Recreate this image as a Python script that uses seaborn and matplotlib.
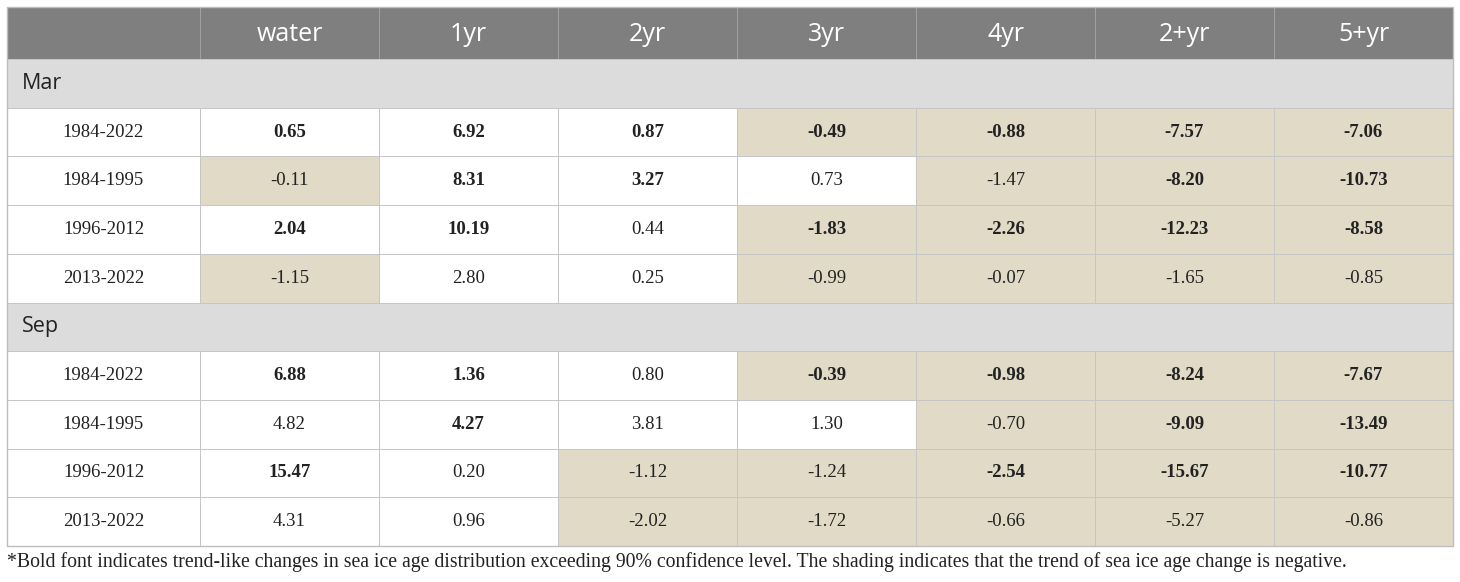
import numpy as np
import matplotlib
matplotlib.use('Agg')
import matplotlib.pyplot as plt
import seaborn as sns
from matplotlib.colors import ListedColormap
from matplotlib.patches import Rectangle

# 表格数据
columns = ['water', '1yr', '2yr', '3yr', '4yr', '2+yr', '5+yr']
periods = ['1984-2022', '1984-1995', '1996-2012', '2013-2022']
months = ['Mar', 'Sep']

mar_values = [
    [0.65, 6.92, 0.87, -0.49, -0.88, -7.57, -7.06],
    [-0.11, 8.31, 3.27, 0.73, -1.47, -8.20, -10.73],
    [2.04, 10.19, 0.44, -1.83, -2.26, -12.23, -8.58],
    [-1.15, 2.80, 0.25, -0.99, -0.07, -1.65, -0.85],
]
mar_bold = [
    [1, 1, 1, 1, 1, 1, 1],
    [0, 1, 1, 0, 0, 1, 1],
    [1, 1, 0, 1, 1, 1, 1],
    [0, 0, 0, 0, 0, 0, 0],
]
sep_values = [
    [6.88, 1.36, 0.80, -0.39, -0.98, -8.24, -7.67],
    [4.82, 4.27, 3.81, 1.30, -0.70, -9.09, -13.49],
    [15.47, 0.20, -1.12, -1.24, -2.54, -15.67, -10.77],
    [4.31, 0.96, -2.02, -1.72, -0.66, -5.27, -0.86],
]
sep_bold = [
    [1, 1, 0, 1, 1, 1, 1],
    [0, 1, 0, 0, 0, 1, 1],
    [1, 0, 0, 0, 1, 1, 1],
    [0, 0, 0, 0, 0, 0, 0],
]
footnote = ('*Bold font indicates trend-like changes in sea ice age distribution exceeding '
            '90% confidence level. The shading indicates that the trend of sea ice age change is negative.')

# 颜色
header_bg = '#7f7f7f'
section_bg = '#dcdcdc'
shade = '#e0dac6'
grid = '#c6c6c6'
txt = '#222222'
serif = ['Liberation Serif', 'DejaVu Serif']
sans = ['Open Sans', 'DejaVu Sans']

# 组装矩阵（月份行为 NaN）
blocks = [(mar_values, mar_bold), (sep_values, sep_bold)]
values, bold = [], []
for vals, bl in blocks:
    values.append([np.nan] * len(columns))
    bold.append([0] * len(columns))
    values.extend(vals)
    bold.extend(bl)
values = np.array(values, dtype=float)
bold = np.array(bold)
n_rows = values.shape[0]
section = np.isnan(values).all(axis=1)

W, H = 1460, 582
L, R, T = 7, 1453, 7
head_b = 59
tab_b = 546
lab_r = 200
row_h = (tab_b - head_b) / n_rows
col_w = (R - lab_r) / len(columns)
x_left = -(lab_r - L) / col_w  # 左侧标签列在热力图坐标中的位置

fig = plt.figure(figsize=(W / 100, H / 100), dpi=100)

# 背景坐标轴（像素坐标）
bg = fig.add_axes([0, 0, 1, 1])
bg.set_xlim(0, W)
bg.set_ylim(H, 0)
bg.axis('off')

bg.add_patch(Rectangle((L, T), R - L, head_b - T, facecolor=header_bg, edgecolor='none'))
for i in range(n_rows):
    y0 = head_b + i * row_h
    if section[i]:
        bg.add_patch(Rectangle((L, y0), lab_r - L, row_h, facecolor=section_bg,
                               edgecolor='none'))
    else:
        bg.add_patch(Rectangle((L, y0), lab_r - L, row_h, facecolor='white',
                               edgecolor=grid, linewidth=0.7))

# 热力图部分
hm = fig.add_axes([lab_r / W, (H - tab_b) / H, (R - lab_r) / W, (tab_b - head_b) / H])
hm.set_facecolor('none')
vmax = np.nanmax(np.abs(values))
sns.heatmap(values, ax=hm, cmap=ListedColormap([shade, 'white']), vmin=-vmax, vmax=vmax,
            cbar=False, linewidths=0.6, linecolor=grid, xticklabels=False, yticklabels=False)
hm.set_xlim(0, len(columns))
hm.set_ylim(n_rows, 0)

# 月份分隔行盖在热力图上
for i in np.where(section)[0]:
    hm.add_patch(Rectangle((0, i), len(columns), 1, facecolor=section_bg,
                           edgecolor='none', zorder=3, clip_on=False))
    for yy in (i, i + 1):
        hm.plot([x_left, len(columns)], [yy, yy], color=grid, linewidth=0.7,
                zorder=4, clip_on=False)

# 表头
for j, c in enumerate(columns):
    hm.text(j + 0.5, -(head_b - T) / 2 / row_h + 0.03, c, ha='center', va='center',
            color='white', fontsize=18, family=sans, clip_on=False)
    bg.plot([lab_r + j * col_w] * 2, [T, head_b], color='#a3a3a3', linewidth=0.7)

# 单元格文字
k = 0
p = 0
for i in range(n_rows):
    yc = head_b + (i + 0.5) * row_h
    if section[i]:
        hm.text(x_left + 15 / col_w, i + 0.5, months[k],
                ha='left', va='center', fontsize=15.5, family=sans, color=txt,
                zorder=5, clip_on=False)
        k += 1
        p = 0
        continue
    bg.text((L + lab_r) / 2, yc, periods[p], ha='center', va='center',
            fontsize=13.5, family=serif, color=txt)
    p += 1
    for j in range(len(columns)):
        hm.text(j + 0.5, i + 0.5, f'{values[i, j]:.2f}', ha='center', va='center',
                fontsize=13.5, family=serif, color=txt,
                fontweight='bold' if bold[i, j] else 'normal')

# 外框放在最上层
fig.add_artist(Rectangle((L / W, (H - tab_b) / H), (R - L) / W, (tab_b - T) / H,
                         transform=fig.transFigure, facecolor='none',
                         edgecolor='#bdbdbd', linewidth=1))

bg.text(L, 562, footnote, ha='left', va='center', fontsize=14.2, family=serif, color=txt)

fig.savefig('out.png', dpi=100)
